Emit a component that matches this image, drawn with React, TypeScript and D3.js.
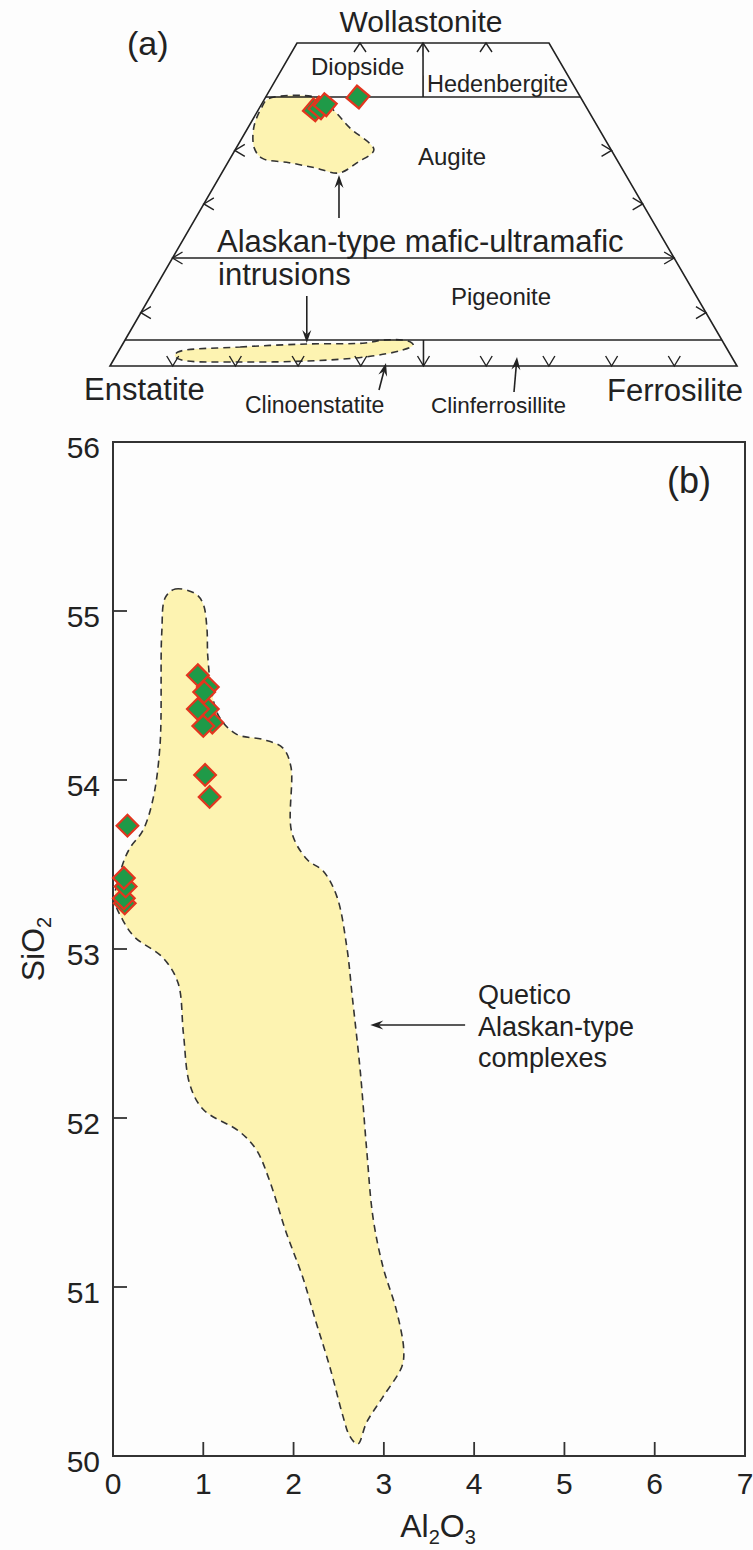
import React from "react";
import * as d3 from "d3";

const INK = "#222";
const FONT = "'Liberation Sans', Arial, Helvetica, sans-serif";
const FIELD_FILL = "#fdf3b1";
const MARKER_FILL = "#1f9a48";
const MARKER_EDGE = "#e2351f";

// ---------- (a) Wo–En–Fs pyroxene quadrilateral ----------
// Wo (mol%) of the field boundaries drawn across the quadrilateral
const WO_LINES = [5, 20, 45];
// Fs/(En+Fs) positions of the tick marks on the base and the top edge
const BASE_TICKS = [0.1, 0.2, 0.3, 0.4, 0.5, 0.6, 0.7, 0.8, 0.9];
const TOP_TICKS = [0.25, 0.5, 0.75];
// Wo of the tick marks on the two sloping edges
const SIDE_TICKS = [10, 20, 28.4, 36.7];

// clinopyroxene analyses (Wo, Fs fraction)
const PX_WO = [43.0, 43.3, 43.8, 45.0];
const PX_FS = [0.17, 0.185, 0.198, 0.293];

// Alaskan-type intrusion fields
const AUG_FIELD_WO = [44.7, 44.8, 42.7, 40.2, 36.8, 34.9, 33.2, 34.0, 34.8, 35.5, 37.1, 40.3, 43.4];
const AUG_FIELD_FS = [0.011, 0.174, 0.235, 0.291, 0.369, 0.333, 0.291, 0.228, 0.157, 0.082, 0.048, 0.016, 0.006];
const OPX_FIELD_WO = [2.69, 3.65, 4.23, 4.42, 5.0, 4.81, 4.04, 3.08, 1.73, 0.96, 0.77, 1.15, 1.92];
const OPX_FIELD_FS = [0.098, 0.197, 0.306, 0.403, 0.434, 0.474, 0.483, 0.466, 0.405, 0.312, 0.205, 0.11, 0.096];

// ---------- (b) Al2O3 vs SiO2 ----------
const X_TICKS = [0, 1, 2, 3, 4, 5, 6, 7];
const Y_TICKS = [50, 51, 52, 53, 54, 55, 56];

const SAMPLE_AL2O3 = [1.07, 1.02, 1.1, 1.0, 1.05, 0.94, 1.05, 1.01, 0.94, 0.16, 0.13, 0.12, 0.14, 0.12];
const SAMPLE_SIO2 = [53.9, 54.03, 54.34, 54.32, 54.42, 54.42, 54.55, 54.52, 54.62, 53.73, 53.27, 53.3, 53.37, 53.42];

// Quetico Alaskan-type complexes field outline
const QUETICO_AL2O3 = [
  0.58, 0.69, 0.92, 1.0, 1.04, 1.05, 1.1, 1.18, 1.37, 1.66, 1.88, 1.97, 1.98, 2.15, 2.33, 2.48,
  2.59, 2.65, 2.74, 2.81, 2.88, 2.99, 3.14, 3.22, 3.2, 2.99, 2.81, 2.71, 2.62, 2.55, 2.4, 2.25,
  2.1, 1.92, 1.74, 1.59, 1.4, 1.0, 0.85, 0.78, 0.72, 0.55, 0.24, 0.11, 0.02, 0.1, 0.19, 0.33,
  0.44, 0.52, 0.54,
];
const QUETICO_SIO2 = [
  55.08, 55.13, 55.1, 55.04, 54.9, 54.73, 54.5, 54.37, 54.27, 54.24, 54.19, 54.08, 53.69, 53.53,
  53.46, 53.31, 53.01, 52.72, 52.27, 51.81, 51.41, 51.12, 50.86, 50.63, 50.53, 50.35, 50.2, 50.07,
  50.12, 50.23, 50.53, 50.79, 51.06, 51.32, 51.62, 51.81, 51.92, 52.05, 52.2, 52.5, 52.8, 52.95,
  53.07, 53.17, 53.29, 53.49, 53.6, 53.7, 53.88, 54.2, 54.87,
];

type Pt = [number, number];

function arrow(tail: Pt, tip: Pt, len = 13, half = 4.5) {
  const [x1, y1] = tail;
  const [x2, y2] = tip;
  const a = Math.atan2(y2 - y1, x2 - x1);
  const dx = Math.cos(a), dy = Math.sin(a);
  const px = -dy, py = dx;
  const bx = x2 - len * dx, by = y2 - len * dy;
  const nx = x2 - 0.65 * len * dx, ny = y2 - 0.65 * len * dy;
  const head = `M${x2},${y2}L${bx + half * px},${by + half * py}L${nx},${ny}L${bx - half * px},${by - half * py}Z`;
  return (
    <g>
      <line x1={x1} y1={y1} x2={nx} y2={ny} stroke={INK} strokeWidth={1.6} />
      <path d={head} fill={INK} />
    </g>
  );
}

export default function App() {
  const W = 753;
  const H = 1550;

  // ternary (quadrilateral) projection
  const woY = d3.scaleLinear().domain([0, 5, 20, 45, 50]).range([366, 340, 258, 97, 43]);
  const leftX = d3.scaleLinear().domain([366, 43]).range([110, 297]);
  const rightX = d3.scaleLinear().domain([366, 43]).range([737, 549]);
  const proj = (wo: number, fs: number): Pt => {
    const yy = woY(wo);
    const xl = leftX(yy);
    const xr = rightX(yy);
    return [xl + fs * (xr - xl), yy];
  };

  const closedCurve = d3.line<Pt>().curve(d3.curveCatmullRomClosed.alpha(0.5));
  const augField = closedCurve(AUG_FIELD_WO.map((w, i) => proj(w, AUG_FIELD_FS[i])));
  const opxField = closedCurve(OPX_FIELD_WO.map((w, i) => proj(w, OPX_FIELD_FS[i])));
  const outline = [proj(0, 0), proj(50, 0), proj(50, 1), proj(0, 1)];

  // (b) scales
  const x = d3.scaleLinear().domain([0, 7]).range([113, 745]);
  const y = d3.scaleLinear().domain([50, 56]).range([1456, 442]);
  const quetico = closedCurve(QUETICO_AL2O3.map((a, i) => [x(a), y(QUETICO_SIO2[i])] as Pt));
  const diamond = d3.symbol().type(d3.symbolSquare).size(235)() as string;
  const pxMarker = d3.symbol().type(d3.symbolSquare).size(260)() as string;

  const dash = "7 5";
  const augTip = proj(33.2, 0.291);
  const opxTop = proj(4.23, 0.306);

  return (
    <svg
      width={W}
      height={H}
      viewBox={`0 0 ${W} ${H}`}
      style={{ position: "absolute", left: 0, top: 0, background: "#fdfdfd" }}
      fontFamily={FONT}
      fill={INK}
    >
      <rect x={0} y={0} width={W} height={H} fill="#fdfdfd" />

      {/* ---------------- (a) ---------------- */}
      <g>
        <path d={augField ?? ""} fill={FIELD_FILL} stroke="#333" strokeWidth={1.6} strokeDasharray={dash} />
        <path d={opxField ?? ""} fill={FIELD_FILL} stroke="#333" strokeWidth={1.6} strokeDasharray={dash} />

        <polygon
          points={outline.map((p) => p.join(",")).join(" ")}
          fill="none"
          stroke={INK}
          strokeWidth={1.6}
          strokeLinejoin="miter"
        />
        {WO_LINES.map((w) => {
          const a = proj(w, 0);
          const b = proj(w, 1);
          return <line key={w} x1={a[0]} y1={a[1]} x2={b[0]} y2={b[1]} stroke={INK} strokeWidth={1.6} />;
        })}
        {/* Diopside | Hedenbergite and Clinoenstatite | Clinoferrosilite dividers */}
        {[[45, 50], [0, 5]].map(([w0, w1], i) => {
          const a = proj(w0, 0.5);
          const b = proj(w1, 0.5);
          return <line key={i} x1={a[0]} y1={a[1]} x2={b[0]} y2={b[1]} stroke={INK} strokeWidth={1.6} />;
        })}

        {BASE_TICKS.map((f) => {
          const [px, py] = proj(0, f);
          return <path key={"b" + f} d={`M${px - 6},${py - 10}L${px},${py}L${px + 6},${py - 10}`} fill="none" stroke={INK} strokeWidth={1.4} />;
        })}
        {TOP_TICKS.map((f) => {
          const [px, py] = proj(50, f);
          return <path key={"t" + f} d={`M${px - 6},${py + 9}L${px},${py}L${px + 6},${py + 9}`} fill="none" stroke={INK} strokeWidth={1.4} />;
        })}
        {SIDE_TICKS.map((w) => {
          const [lx, ly] = proj(w, 0);
          const [rx, ry] = proj(w, 1);
          return (
            <g key={"s" + w}>
              <path d={`M${lx + 10},${ly - 6}L${lx},${ly}L${lx + 10},${ly + 6}`} fill="none" stroke={INK} strokeWidth={1.4} />
              <path d={`M${rx - 10},${ry - 6}L${rx},${ry}L${rx - 10},${ry + 6}`} fill="none" stroke={INK} strokeWidth={1.4} />
            </g>
          );
        })}

        {PX_WO.map((w, i) => {
          const [px, py] = proj(w, PX_FS[i]);
          return (
            <path
              key={"px" + i}
              d={pxMarker}
              transform={`translate(${px},${py}) rotate(40)`}
              fill={MARKER_FILL}
              stroke={MARKER_EDGE}
              strokeWidth={2.2}
            />
          );
        })}

        {arrow([augTip[0], 218], [augTip[0], augTip[1] + 2])}
        {arrow([opxTop[0], 296], [opxTop[0], opxTop[1] - 1])}
        {arrow([379, 390], [386, 363])}
        {arrow([514, 392], [517, 357])}

        <text x={127} y={55} fontSize={34}>(a)</text>
        <text x={421} y={32} fontSize={30} textAnchor="middle">Wollastonite</text>
        <text x={311} y={75} fontSize={24}>Diopside</text>
        <text x={427} y={92} fontSize={23.5}>Hedenbergite</text>
        <text x={418} y={165} fontSize={24}>Augite</text>
        <text x={217} y={252} fontSize={31}>Alaskan-type mafic-ultramafic</text>
        <text x={218} y={285} fontSize={31}>intrusions</text>
        <text x={451} y={305} fontSize={24}>Pigeonite</text>
        <text x={84} y={400} fontSize={31}>Enstatite</text>
        <text x={607} y={401} fontSize={31}>Ferrosilite</text>
        <text x={245} y={413} fontSize={23}>Clinoenstatite</text>
        <text x={431} y={413} fontSize={22.5}>Clinferrosillite</text>
      </g>

      {/* ---------------- (b) ---------------- */}
      <g>
        <path d={quetico ?? ""} fill={FIELD_FILL} stroke="#333" strokeWidth={1.6} strokeDasharray={dash} />

        <rect
          x={x(0)}
          y={y(56)}
          width={x(7) - x(0)}
          height={y(50) - y(56)}
          fill="none"
          stroke="#333"
          strokeWidth={2}
        />
        {X_TICKS.filter((t) => t > 0 && t < 7).map((t) => (
          <line key={"xt" + t} x1={x(t)} x2={x(t)} y1={y(50)} y2={y(50) - 14} stroke="#333" strokeWidth={1.8} />
        ))}
        {Y_TICKS.filter((t) => t > 50 && t < 56).map((t) => (
          <line key={"yt" + t} x1={x(0)} x2={x(0) + 14} y1={y(t)} y2={y(t)} stroke="#333" strokeWidth={1.8} />
        ))}
        {X_TICKS.map((t) => (
          <text key={"xl" + t} x={x(t)} y={y(50) + 38} fontSize={30} textAnchor="middle">{t}</text>
        ))}
        {Y_TICKS.map((t) => (
          <text key={"yl" + t} x={x(0) - 13} y={y(t) + 16} fontSize={30} textAnchor="end">{t}</text>
        ))}

        {SAMPLE_AL2O3.map((a, i) => (
          <path
            key={"s" + i}
            d={diamond}
            transform={`translate(${x(a)},${y(SAMPLE_SIO2[i])}) rotate(45)`}
            fill={MARKER_FILL}
            stroke={MARKER_EDGE}
            strokeWidth={2.2}
          />
        ))}

        {arrow([x(3.9), y(52.55)], [x(2.85), y(52.55)])}
        <text x={478} y={1004} fontSize={27}>Quetico</text>
        <text x={478} y={1036} fontSize={27}>Alaskan-type</text>
        <text x={478} y={1067} fontSize={27}>complexes</text>

        <text x={667} y={493} fontSize={36}>(b)</text>

        <text x={438} y={1537} fontSize={32} textAnchor="middle">
          Al<tspan fontSize={20} dy={7}>2</tspan><tspan dy={-7}>O</tspan><tspan fontSize={20} dy={7}>3</tspan>
        </text>
        <text transform={`translate(44, ${(y(50) + y(56)) / 2}) rotate(-90)`} fontSize={32} textAnchor="middle">
          SiO<tspan fontSize={20} dy={7}>2</tspan>
        </text>
      </g>
    </svg>
  );
}
